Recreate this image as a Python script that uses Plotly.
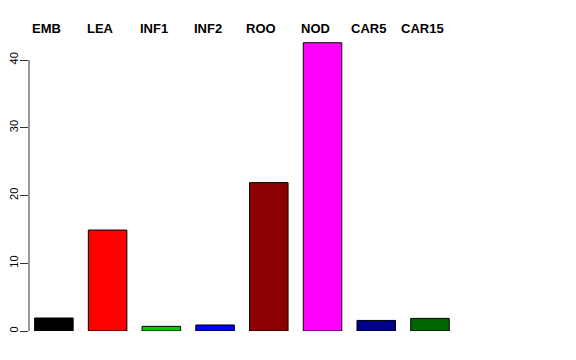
import plotly.graph_objects as go

categories = ["EMB", "LEA", "INF1", "INF2", "ROO", "NOD", "CAR5", "CAR15"]
values = [1.92, 14.9, 0.68, 0.89, 21.9, 42.55, 1.56, 1.86]
colors = ["#000000", "#FF0000", "#00CD00", "#0000FF", "#8B0000", "#FF00FF", "#00008B", "#006400"]
y_ticks = [0, 10, 20, 30, 40]

xpos = list(range(len(categories)))

fig = go.Figure()
fig.add_trace(go.Bar(
    x=xpos, y=values, width=0.717,
    marker=dict(color=colors, line=dict(color="#000000", width=1)),
    hoverinfo="skip",
))

label_y = 1 + (40 - 29) / 291
for i, c in enumerate(categories):
    fig.add_annotation(x=i, y=label_y, xref="x", yref="paper", text="<b>%s</b>" % c,
                       showarrow=False, xshift=-7.5, yanchor="middle",
                       font=dict(family="Liberation Sans, Arial, sans-serif", size=13, color="#000000"))

fig.add_shape(type="line", xref="paper", yref="y", x0=0, x1=0, y0=0, y1=40,
              line=dict(color="#333333", width=1))

fig.update_layout(
    width=560, height=344,
    margin=dict(l=21, r=21, t=32, b=21, autoexpand=False),
    plot_bgcolor="white", paper_bgcolor="white",
    showlegend=False,
    xaxis=dict(range=[-0.463, -0.463 + 518 / 53.73], showticklabels=False, showgrid=False,
               zeroline=False, showline=False, ticks="", automargin=False),
    yaxis=dict(range=[0, 291 / 6.775], tickvals=y_ticks, ticktext=[str(v) for v in y_ticks],
               ticks="outside", ticklen=8, tickcolor="#333333", tickwidth=1,
               tickangle=-90, showgrid=False, zeroline=False, showline=False, automargin=False,
               ticklabelstandoff=-2,
               tickfont=dict(family="Liberation Sans, Arial, sans-serif", size=11, color="#000000")),
)

fig.write_html("out.html")
